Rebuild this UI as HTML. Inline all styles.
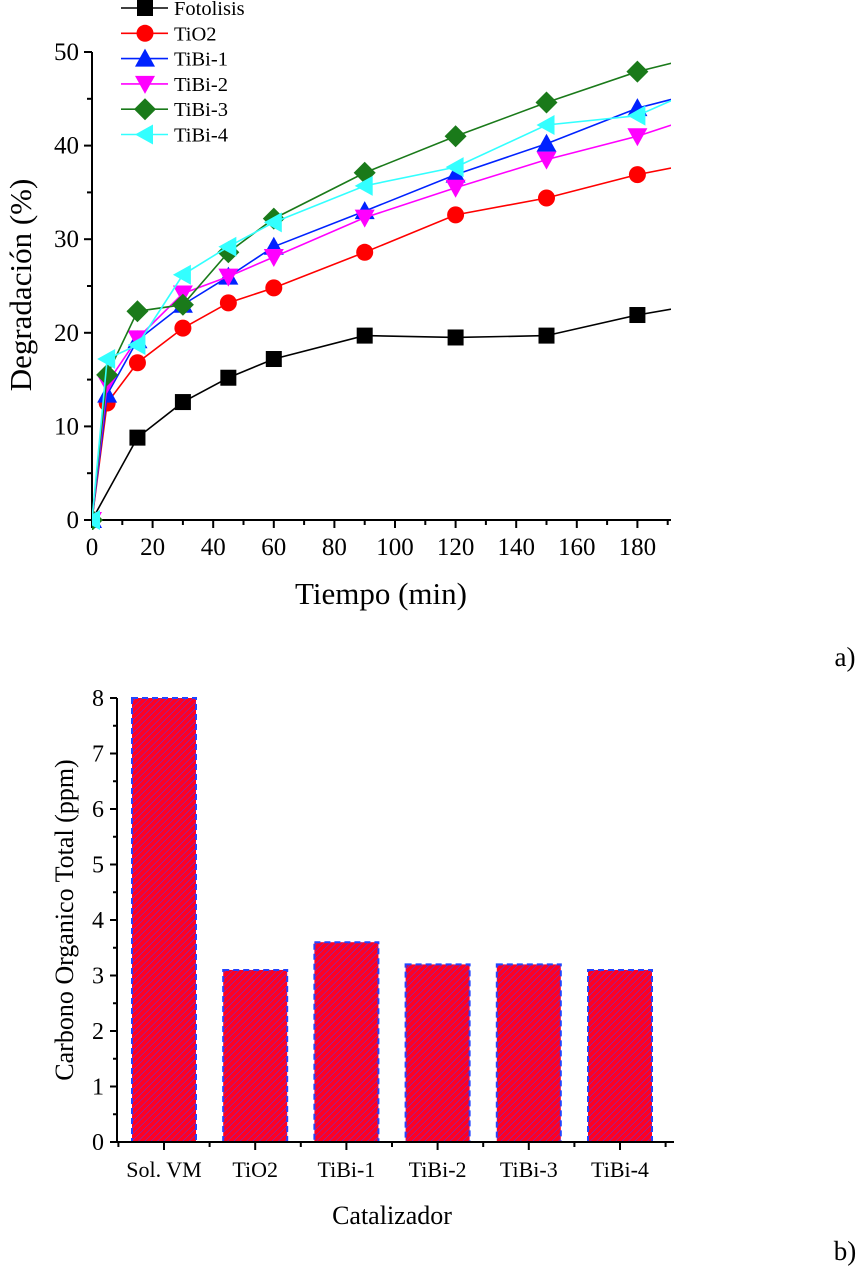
<!DOCTYPE html>
<html><head><meta charset="utf-8"><style>
body{margin:0;background:#fff;}
svg{display:block;font-family:"Liberation Serif",serif;}
</style></head><body>
<svg id="chart" width="861" height="1272" viewBox="0 0 861 1272">
<defs>
<pattern id="hatch" patternUnits="userSpaceOnUse" width="4.5" height="4.5" patternTransform="rotate(45)">
<rect width="4.5" height="4.5" fill="#ff0022"/>
<line x1="0" y1="0" x2="0" y2="4.5" stroke="#4040ff" stroke-width="0.9"/>
</pattern>
<clipPath id="plotclip"><rect x="92" y="30" width="579" height="500"/></clipPath>
</defs>
<g id="topchart"></g>
<g id="bottomchart"></g>
<text x="845" y="666" font-size="27" text-anchor="middle">a)</text>
<text x="845" y="1260" font-size="27" text-anchor="middle">b)</text>
</svg>
<script>
const times = [0,5,15,30,45,60,90,120,150,180,210];
const seriesNames = ["Fotolisis","TiO2","TiBi-1","TiBi-2","TiBi-3","TiBi-4"];
const fotolisis = [0,null,8.8,12.6,15.2,17.2,19.7,19.5,19.7,21.9,23.6];
const tio2 = [0,12.5,16.8,20.5,23.2,24.8,28.6,32.6,34.4,36.9,38.8];
const tibi1 = [0,13.4,19.2,23,26,29.2,33,36.9,40.2,44,46.5];
const tibi2 = [0,14.6,19.4,24.2,26,28.1,32.3,35.5,38.5,41,44.2];
const tibi3 = [0,15.5,22.3,23,28.6,32.2,37.1,41,44.6,47.9,50.3];
const tibi4 = [0,17.2,18.7,26.2,29.2,31.8,35.7,37.7,42.2,43.2,47.5];
const xTicks = [0,20,40,60,80,100,120,140,160,180];
const yTicks = [0,10,20,30,40,50];

const categories = ["Sol. VM","TiO2","TiBi-1","TiBi-2","TiBi-3","TiBi-4"];
const tocValues = [8,3.1,3.6,3.2,3.2,3.1];
const barYTicks = [0,1,2,3,4,5,6,7,8];

const NS="http://www.w3.org/2000/svg";
function mk(tag,attrs,parent){const e=document.createElementNS(NS,tag);for(const k in attrs)e.setAttribute(k,attrs[k]);parent.appendChild(e);return e;}

// ---- top chart
const topG=document.getElementById('topchart');
const X=t=>92+t*3.03;
const Y=v=>520-v*9.36;
const colors=["#000000","#ff0000","#0022ff","#ff00ff","#1a7a1a","#33ffff"];
const markers=["square","circle","up","down","diamond","left"];
const seriesData=[fotolisis,tio2,tibi1,tibi2,tibi3,tibi4];
function marker(g,type,x,y,c){
  let e;
  if(type==="square") e=mk('rect',{x:x-8,y:y-8,width:16,height:16,fill:c},g);
  else if(type==="circle") e=mk('circle',{cx:x,cy:y,r:8.5,fill:c},g);
  else if(type==="up") e=mk('polygon',{points:`${x},${y-10} ${x-10},${y+8} ${x+10},${y+8}`,fill:c},g);
  else if(type==="down") e=mk('polygon',{points:`${x},${y+10} ${x-10},${y-8} ${x+10},${y-8}`,fill:c},g);
  else if(type==="diamond") e=mk('polygon',{points:`${x},${y-11} ${x+11},${y} ${x},${y+11} ${x-11},${y}`,fill:c},g);
  else e=mk('polygon',{points:`${x-10},${y} ${x+8},${y-10} ${x+8},${y+10}`,fill:c},g);
  return e;
}
const ax=mk('g',{},topG);


mk('line',{x1:92,y1:52,x2:92,y2:521,stroke:'#000','stroke-width':2},ax);
mk('line',{x1:91,y1:520,x2:671,y2:520,stroke:'#000','stroke-width':2},ax);
for(let t=0;t<=190;t+=10){const maj=t%20===0;mk('line',{x1:X(t),y1:520,x2:X(t),y2:maj?528:525,stroke:'#000','stroke-width':2},ax);}
xTicks.forEach(t=>{const e=mk('text',{x:X(t),y:555,'font-size':25,'text-anchor':'middle'},ax);e.textContent=t;

});
for(let v=0;v<=50;v+=5){const maj=v%10===0;mk('line',{x1:92,y1:Y(v),x2:maj?84:87,y2:Y(v),stroke:'#000','stroke-width':2},ax);}
yTicks.forEach(v=>{const e=mk('text',{x:79,y:Y(v)+8,'font-size':25,'text-anchor':'end'},ax);e.textContent=v;

});
let tt=mk('text',{x:381,y:604,'font-size':31,'text-anchor':'middle'},ax);tt.textContent='Tiempo (min)';


tt=mk('text',{x:0,y:0,'font-size':31,'text-anchor':'middle',transform:'translate(31,285) rotate(-90)'},ax);tt.textContent='Degradación (%)';


seriesData.forEach((arr,i)=>{
  const g=mk('g',{'clip-path':'url(#plotclip)'},topG);
  
  
  const pts=[];arr.forEach((v,j)=>{if(v!==null)pts.push(X(times[j])+','+Y(v));});
  mk('polyline',{points:pts.join(' '),fill:'none',stroke:colors[i],'stroke-width':1.6},g);
  arr.forEach((v,j)=>{if(v!==null&&times[j]<=190){const m=marker(g,markers[i],X(times[j]),Y(v),colors[i]);
  
  }});
});
const lg=mk('g',{},topG);


seriesNames.forEach((n,i)=>{
  const y=8+i*25.3;
  const it=mk('g',{},lg);
  
  
  mk('line',{x1:121,y1:y,x2:168,y2:y,stroke:colors[i],'stroke-width':1.6},it);
  marker(it,markers[i],145,y,colors[i]);
  const e=mk('text',{x:174,y:y+7,'font-size':20.5},it);e.textContent=n;
});

// ---- bottom chart
const botG=document.getElementById('bottomchart');
const BY=v=>1142-v*55.5;
const BX=i=>164+i*91.2;
const bw=64;
tocValues.forEach((v,i)=>{
  const r=mk('rect',{x:BX(i)-bw/2,y:BY(v),width:bw,height:1142-BY(v),fill:'url(#hatch)',stroke:'#2244ff','stroke-width':2,'stroke-dasharray':'6,4'},botG);
  
  
});
const bax=mk('g',{},botG);


mk('line',{x1:117,y1:698,x2:117,y2:1143,stroke:'#000','stroke-width':2},bax);
mk('line',{x1:116,y1:1142,x2:674,y2:1142,stroke:'#000','stroke-width':2},bax);
for(let v=0;v<=8;v+=0.5){const maj=v%1===0;mk('line',{x1:117,y1:BY(v),x2:maj?110:113,y2:BY(v),stroke:'#000','stroke-width':2},bax);}
barYTicks.forEach(v=>{const e=mk('text',{x:104,y:BY(v)+8,'font-size':24,'text-anchor':'end'},bax);e.textContent=v;

});
categories.forEach((c,i)=>{
  mk('line',{x1:BX(i),y1:1142,x2:BX(i),y2:1150,stroke:'#000','stroke-width':2},bax);
  mk('line',{x1:BX(i)-45.6,y1:1142,x2:BX(i)-45.6,y2:1147,stroke:'#000','stroke-width':2},bax);
  const e=mk('text',{x:BX(i),y:1177,'font-size':22,'text-anchor':'middle'},bax);e.textContent=c;
  
  
});
mk('line',{x1:BX(5)+45.6,y1:1142,x2:BX(5)+45.6,y2:1147,stroke:'#000','stroke-width':2},bax);
tt=mk('text',{x:392,y:1224,'font-size':26,'text-anchor':'middle'},bax);tt.textContent='Catalizador';


tt=mk('text',{x:0,y:0,'font-size':26,'text-anchor':'middle',transform:'translate(73,920) rotate(-90)'},bax);tt.textContent='Carbono Organico Total (ppm)';


</script>
</body></html>
